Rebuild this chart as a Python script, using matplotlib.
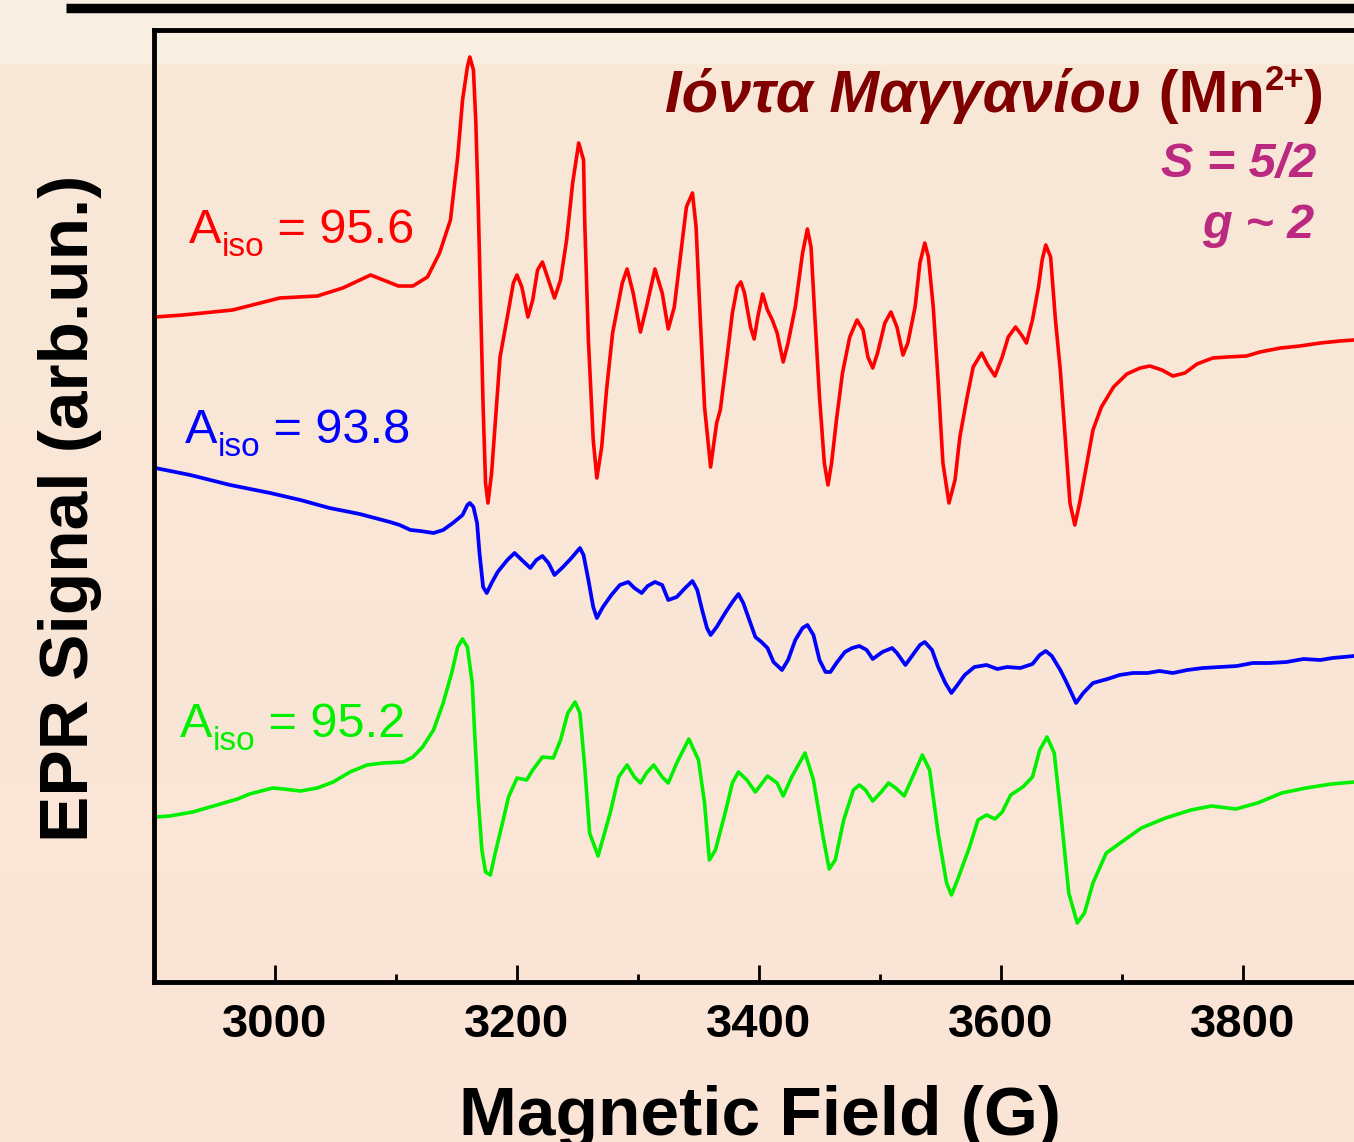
import numpy as np
import matplotlib
matplotlib.use("Agg")
import matplotlib.pyplot as plt
from matplotlib.lines import Line2D
from matplotlib.patches import Rectangle

plt.rcParams['font.family'] = ['Liberation Sans', 'DejaVu Sans']

# ---- data (field in G, signal in arb. units) ----
red_field = [2901, 2924, 2965, 3004, 3035, 3056, 3079, 3102, 3114, 3126, 3136, 3145, 3151, 3155,
             3159, 3161, 3164, 3166, 3168, 3170, 3172, 3174, 3176, 3179, 3182, 3186, 3192, 3197,
             3200, 3204, 3209, 3213, 3217, 3221, 3226, 3231, 3236, 3241, 3246, 3251, 3255, 3256,
             3259, 3263, 3266, 3270, 3274, 3279, 3287, 3291, 3296, 3302, 3307, 3314, 3320, 3325,
             3330, 3336, 3340, 3345, 3348, 3351, 3355, 3360, 3365, 3368, 3374, 3378, 3382, 3385,
             3388, 3393, 3396, 3399, 3403, 3407, 3411, 3415, 3420, 3424, 3430, 3436, 3440, 3443,
             3446, 3450, 3454, 3457, 3460, 3464, 3469, 3475, 3481, 3486, 3490, 3494, 3498, 3504,
             3509, 3514, 3519, 3523, 3529, 3533, 3537, 3540, 3544, 3548, 3552, 3557, 3562, 3566,
             3572, 3577, 3584, 3589, 3595, 3601, 3606, 3612, 3617, 3621, 3626, 3631, 3634, 3637,
             3641, 3645, 3649, 3653, 3657, 3661, 3665, 3671, 3676, 3683, 3693, 3704, 3715, 3723,
             3733, 3742, 3752, 3762, 3775, 3787, 3803, 3814, 3831, 3847, 3864, 3880, 3892]
red_signal = [665, 667, 672, 684, 686, 694, 707, 696, 696, 705, 729, 762, 825, 882,
              915, 925, 912, 859, 775, 675, 575, 499, 479, 509, 559, 625, 665, 699,
              707, 695, 665, 682, 712, 720, 702, 684, 702, 742, 799, 839, 822, 759,
              642, 542, 504, 535, 592, 649, 699, 713, 689, 650, 675, 713, 689, 653,
              675, 735, 775, 789, 755, 675, 575, 515, 559, 572, 629, 669, 695, 700,
              689, 655, 643, 665, 688, 672, 662, 649, 620, 639, 675, 729, 753, 735,
              669, 585, 519, 497, 519, 562, 609, 645, 662, 652, 625, 614, 629, 659,
              670, 655, 627, 639, 675, 719, 739, 725, 675, 602, 519, 479, 502, 545,
              585, 615, 629, 617, 606, 625, 645, 655, 647, 639, 662, 695, 722, 737,
              725, 662, 612, 545, 479, 457, 479, 519, 552, 575, 595, 608, 614, 616,
              612, 606, 609, 618, 624, 625, 626, 630, 634, 636, 639, 641, 642]

blue_field = [2901, 2930, 2963, 2996, 3021, 3045, 3070, 3095, 3103, 3112, 3120, 3131, 3139, 3147,
              3155, 3159, 3161, 3164, 3167, 3169, 3172, 3175, 3179, 3184, 3192, 3198, 3204, 3211,
              3216, 3221, 3226, 3231, 3238, 3245, 3252, 3255, 3259, 3263, 3266, 3271, 3278, 3285,
              3292, 3297, 3303, 3308, 3314, 3320, 3325, 3332, 3339, 3345, 3349, 3353, 3357, 3360,
              3365, 3372, 3378, 3383, 3387, 3392, 3397, 3402, 3407, 3412, 3419, 3424, 3430, 3436,
              3440, 3445, 3450, 3455, 3459, 3464, 3471, 3477, 3483, 3489, 3494, 3502, 3510, 3514,
              3521, 3527, 3533, 3537, 3543, 3548, 3554, 3559, 3564, 3570, 3578, 3588, 3597, 3605,
              3616, 3626, 3632, 3637, 3642, 3649, 3654, 3659, 3662, 3668, 3676, 3688, 3698, 3709,
              3721, 3731, 3742, 3754, 3767, 3781, 3795, 3808, 3822, 3836, 3850, 3864, 3874, 3892]
blue_signal = [514, 507, 497, 489, 482, 474, 468, 460, 457, 452, 451, 449, 452, 459,
               467, 477, 479, 475, 459, 429, 395, 389, 399, 410, 422, 429, 422, 414,
               422, 426, 419, 407, 415, 424, 434, 427, 402, 375, 364, 375, 387, 397,
               400, 394, 389, 396, 400, 397, 382, 385, 394, 401, 392, 372, 354, 347,
               355, 369, 380, 388, 379, 362, 345, 340, 334, 320, 312, 322, 342, 354,
               357, 347, 322, 310, 310, 319, 330, 334, 336, 332, 323, 330, 334, 329,
               317, 327, 337, 340, 332, 315, 299, 289, 297, 307, 315, 317, 313, 315,
               314, 318, 327, 331, 326, 312, 300, 287, 279, 289, 299, 303, 307, 309,
               309, 311, 309, 312, 314, 315, 316, 319, 319, 320, 323, 322, 324, 326]

green_field = [2901, 2913, 2932, 2952, 2969, 2979, 2998, 3007, 3021, 3035, 3048, 3062, 3076, 3089,
               3106, 3114, 3122, 3131, 3139, 3146, 3151, 3155, 3159, 3163, 3165, 3168, 3171, 3174,
               3178, 3182, 3188, 3193, 3200, 3208, 3213, 3221, 3230, 3236, 3242, 3248, 3252, 3256,
               3260, 3267, 3277, 3284, 3291, 3297, 3302, 3307, 3313, 3320, 3325, 3332, 3342, 3350,
               3355, 3359, 3364, 3372, 3378, 3383, 3390, 3397, 3407, 3415, 3420, 3427, 3438, 3445,
               3453, 3458, 3463, 3470, 3478, 3483, 3488, 3494, 3501, 3507, 3513, 3520, 3527, 3535,
               3541, 3548, 3555, 3559, 3564, 3574, 3581, 3588, 3595, 3601, 3608, 3618, 3626, 3632,
               3638, 3644, 3650, 3656, 3663, 3669, 3676, 3687, 3702, 3716, 3736, 3757, 3774, 3794,
               3812, 3832, 3852, 3873, 3892]
green_signal = [165, 166, 170, 177, 183, 188, 194, 193, 191, 194, 200, 210, 217, 219,
                220, 225, 235, 252, 279, 309, 335, 343, 335, 299, 249, 182, 132, 110,
                107, 129, 159, 185, 204, 202, 212, 225, 224, 242, 269, 280, 269, 215,
                149, 126, 169, 205, 217, 205, 199, 209, 217, 205, 199, 219, 243, 222,
                179, 122, 132, 169, 199, 210, 202, 190, 206, 199, 186, 205, 229, 202,
                145, 113, 122, 162, 192, 197, 192, 181, 190, 199, 194, 186, 205, 227,
                212, 149, 99, 87, 102, 135, 162, 167, 163, 170, 187, 195, 205, 232,
                245, 229, 162, 89, 59, 69, 99, 129, 142, 154, 164, 172, 176, 173,
                179, 189, 194, 198, 200]

xticks = [3000, 3200, 3400, 3600, 3800]

W, H = 1354, 1142
fig = plt.figure(figsize=(W / 100, H / 100), dpi=100)
fig.patch.set_facecolor('#F9E6D7')

# background: light band on top, soft gradient below
bg = fig.add_axes([0, 0, 1, 1], zorder=-10)
grad = np.linspace(0, 1, 256).reshape(-1, 1)
c_top = np.array([248, 232, 216]) / 255
c_bot = np.array([251, 228, 214]) / 255
img = c_top[None, None, :] * (1 - grad[:, :, None]) + c_bot[None, None, :] * grad[:, :, None]
bg.imshow(img, aspect='auto', extent=[0, 1, 0, 1 - 64 / H], origin='upper')
bg.add_patch(Rectangle((0, 1 - 64 / H), 1, 64 / H, color='#F9EEE2', lw=0))
bg.set_xlim(0, 1)
bg.set_ylim(0, 1)
bg.axis('off')

# black bar of the cropped title above
fig.add_artist(Line2D([66 / W, 1], [1 - 7.5 / H] * 2, lw=6.8, color='black',
                      transform=fig.transFigure, solid_capstyle='butt'))

ax = fig.add_axes([154 / W, (H - 982) / H, 1210 / W, 952 / H])
ax.patch.set_alpha(0)
kw = dict(solid_joinstyle='round', solid_capstyle='round')
ax.plot(red_field, red_signal, color='#FF0000', lw=2.6, **kw)
ax.plot(blue_field, blue_signal, color='#0000FF', lw=2.7, **kw)
ax.plot(green_field, green_signal, color='#00F000', lw=2.6, **kw)
ax.set_xlim(2900, 3900)
ax.set_ylim(0, 952)
ax.set_yticks([])
ax.set_xticks(xticks)
ax.set_xticks([2900 + 100 * k for k in range(10)], minor=True)
ax.tick_params(axis='x', which='major', direction='in', length=12, width=2,
               labelsize=34, pad=15)
ax.tick_params(axis='x', which='minor', direction='in', length=5.5, width=2)
for lab in ax.get_xticklabels():
    lab.set_fontweight('bold')
for sp in ax.spines.values():
    sp.set_linewidth(3.5)

fig.text(760 / W, 7 / H, 'Magnetic Field (G)', fontsize=50, fontweight='bold',
         ha='center', va='baseline')
fig.text(70 / W, 1 - 508 / H, 'EPR Signal (arb.un.)', fontsize=50, fontweight='bold',
         ha='center', va='center', rotation=90)

renderer = fig.canvas.get_renderer()


def chain(pieces, x, y, color, right=False):
    # pieces: (text, size, weight, style, dy) in pixels, y = baseline from top
    made = []
    for s, size, weight, style, dy in pieces:
        t = fig.text(x / W, 1 - (y + dy) / H, s, fontsize=size, fontweight=weight,
                     fontstyle=style, color=color, ha='left', va='baseline')
        w = t.get_window_extent(renderer).width
        made.append((t, dy))
        x += w
    if right:
        # shift everything so the chain ends at the given x
        total = x - made[0][0].get_position()[0] * W
        start = right - total
        for t, dy in made:
            w = t.get_window_extent(renderer).width
            t.set_x(start / W)
            start += w


chain([('Ιόντα Μαγγανίου', 43, 'bold', 'italic', 0),
       (' (Mn', 43, 'bold', 'normal', 0),
       ('2+', 25, 'bold', 'normal', -22),
       (')', 43, 'bold', 'normal', 0)], 672, 112, '#800000', right=1324)
chain([('S = 5/2', 35, 'bold', 'italic', 0)], 1160, 177, '#BB2A80', right=1316)
chain([('g ~ 2', 35, 'bold', 'italic', 0)], 1200, 238, '#BB2A80', right=1314)

for label, col, x0, y0 in [('95.6', '#FF0000', 189, 243),
                           ('93.8', '#0000FF', 185, 443),
                           ('95.2', '#00F000', 180, 737)]:
    chain([('A', 35, 'normal', 'normal', 0),
           ('iso', 24, 'normal', 'normal', 13),
           (' = ' + label, 35, 'normal', 'normal', 0)], x0, y0, col)

fig.savefig('out.png', dpi=100, facecolor=fig.get_facecolor())
